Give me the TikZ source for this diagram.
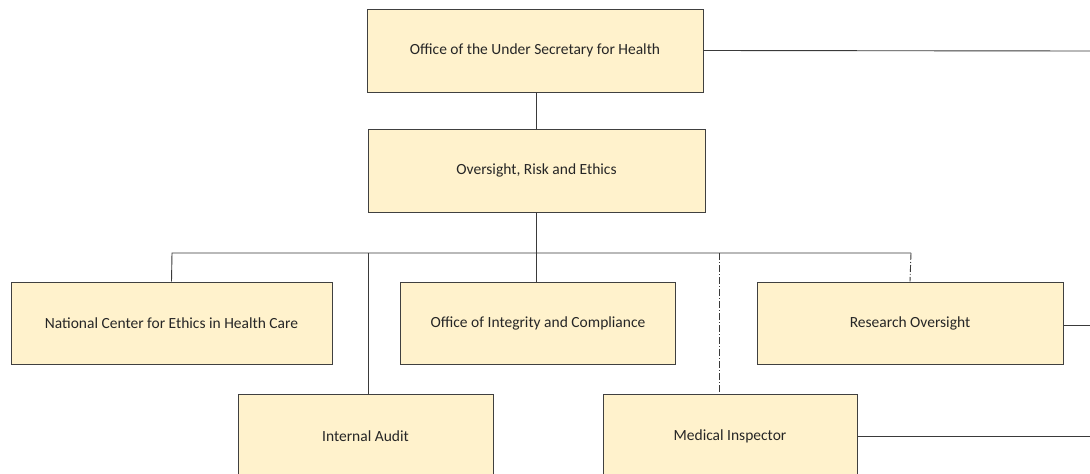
\documentclass[tikz,border=0pt]{standalone}
\usepackage{fontspec}
\setmainfont{Carlito}
\definecolor{boxfill}{HTML}{FFF2CC}
\definecolor{boxline}{HTML}{404040}
\definecolor{txt}{HTML}{262626}
\definecolor{conn}{HTML}{3A3A3A}
\tikzset{
  orgbox/.style={draw=boxline, fill=boxfill, line width=1pt, inner sep=0pt,
    font=\fontsize{15.5}{18}\selectfont, text=txt},
  link/.style={draw=conn, line width=0.9pt},
  dashdotlink/.style={draw=conn, line width=0.9pt, dash pattern=on 7pt off 2pt on 1pt off 2pt}
}
\begin{document}
\begin{tikzpicture}[x=1pt,y=-1pt]
\useasboundingbox (0,0) rectangle (1090,474);
\clip (0,0) rectangle (1090,474);
\node[orgbox, minimum width=336pt, minimum height=83pt] (top) at (535,50.5) {Office of the Under Secretary for Health};
\node[orgbox, minimum width=337pt, minimum height=83pt] (ovr) at (536.5,170.5) {Oversight, Risk and Ethics};
\node[orgbox, minimum width=321pt, minimum height=82pt] (nce) at (171.5,323) {National Center for Ethics in Health Care};
\node[orgbox, minimum width=275pt, minimum height=82pt] (oic) at (538,323) {Office of Integrity and Compliance};
\node[orgbox, minimum width=306pt, minimum height=82pt] (ro) at (910,323) {Research Oversight};
\node[orgbox, minimum width=255pt, minimum height=84pt] (ia) at (365.5,436) {Internal Audit};
\node[orgbox, minimum width=254pt, minimum height=84pt] (mi) at (730,436) {Medical Inspector};
\coordinate (barL) at (172,253);
\coordinate (barR) at (911,253);
\coordinate (barIA) at (368,253);
\coordinate (barMI) at (719,253);
\coordinate (topR) at (1090,51);
\coordinate (roR) at (1090,325);
\coordinate (miR) at (1090,436);
\draw[link] (top.east) -- (topR);
\draw[link] (ovr.north |- top.south) -- (ovr.north);
\draw[link] (ovr.south) -- (ovr.south |- oic.north);
\draw[link] (nce.north) -- (barL) -- (barR);
\draw[link] (barIA) -- (barIA |- ia.north);
\draw[dashdotlink] (barMI) -- (barMI |- mi.north);
\draw[dashdotlink] (barR) -- (ro.north);
\draw[link] (ro.east |- roR) -- (roR);
\draw[link] (mi.east) -- (miR);
\end{tikzpicture}
\end{document}
